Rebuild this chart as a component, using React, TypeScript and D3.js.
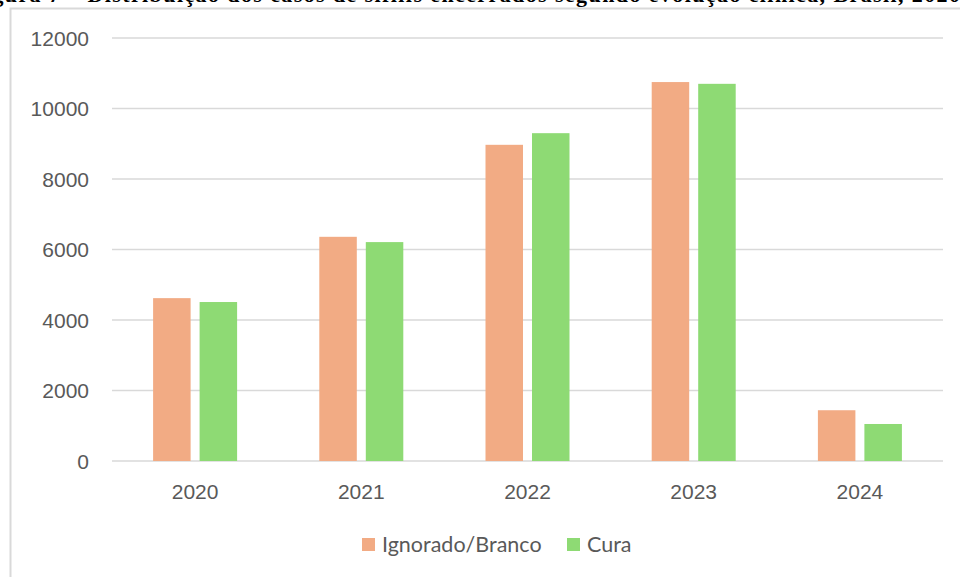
import React from "react";
import * as d3 from "d3";

const years = ["2020", "2021", "2022", "2023", "2024"];
const seriesNames = ["Ignorado/Branco", "Cura"];
const ignorado = [4620, 6360, 8970, 10750, 1440];
const cura = [4510, 6210, 9300, 10700, 1050];
const yTicks = [0, 2000, 4000, 6000, 8000, 10000, 12000];
const colors = ["#F2AB84", "#8EDA74"];
const title = "Figura 7 – Distribuição dos casos de sífilis encerrados segundo evolução clínica, Brasil, 2020";

export default function App() {
  const W = 960, H = 577;
  const left = 112, right = 943, top = 38, bottom = 461;
  const x = d3.scaleBand().domain(years).range([left, right]).paddingInner(0).paddingOuter(0);
  const y = d3.scaleLinear().domain([0, 12000]).range([bottom, top]);
  const bw = x.bandwidth();
  const barW = 37.5;
  const gap = 9;
  const series = [ignorado, cura];
  return (
    <svg width={W} height={H} style={{ position: "absolute", left: 0, top: 0, background: "#fff" }}>
      <rect x={0} y={0} width={W} height={H} fill="#fff" />
      <text x={-30} y={2} textLength={990} lengthAdjust="spacing" fontFamily="Liberation Serif" fontSize={22} fontWeight="bold" fill="#000">{title}</text>
      <rect x={10.5} y={8.5} width={W + 20} height={H + 20} fill="none" stroke="#D9D9D9" strokeWidth={2} />
      {yTicks.map((t) => (
        <g key={t}>
          <line x1={left} x2={right} y1={y(t)} y2={y(t)} stroke="#D9D9D9" strokeWidth={1.5} />
          <text x={89} y={y(t) + 7.5} textAnchor="end" fontFamily="Liberation Sans" fontSize={21} fill="#595959">{t}</text>
        </g>
      ))}
      {years.map((yr, i) => {
        const cx = (x(yr) as number) + bw / 2;
        return (
          <g key={yr}>
            {series.map((s, j) => {
              const bx = j === 0 ? cx - gap / 2 - barW : cx + gap / 2;
              return <rect key={j} x={bx} y={y(s[i])} width={barW} height={bottom - y(s[i])} fill={colors[j]} />;
            })}
            <text x={cx} y={499} textAnchor="middle" fontFamily="Liberation Sans" fontSize={21} fill="#595959">{yr}</text>
          </g>
        );
      })}
      {seriesNames.map((n, j) => {
        const lx = j === 0 ? 362 : 567;
        return (
          <g key={n}>
            <rect x={lx} y={538} width={13} height={13} fill={colors[j]} />
            <text x={lx + 20} y={552} fontFamily="Lato" fontSize={21.5} fill="#595959">{n}</text>
          </g>
        );
      })}
    </svg>
  );
}
